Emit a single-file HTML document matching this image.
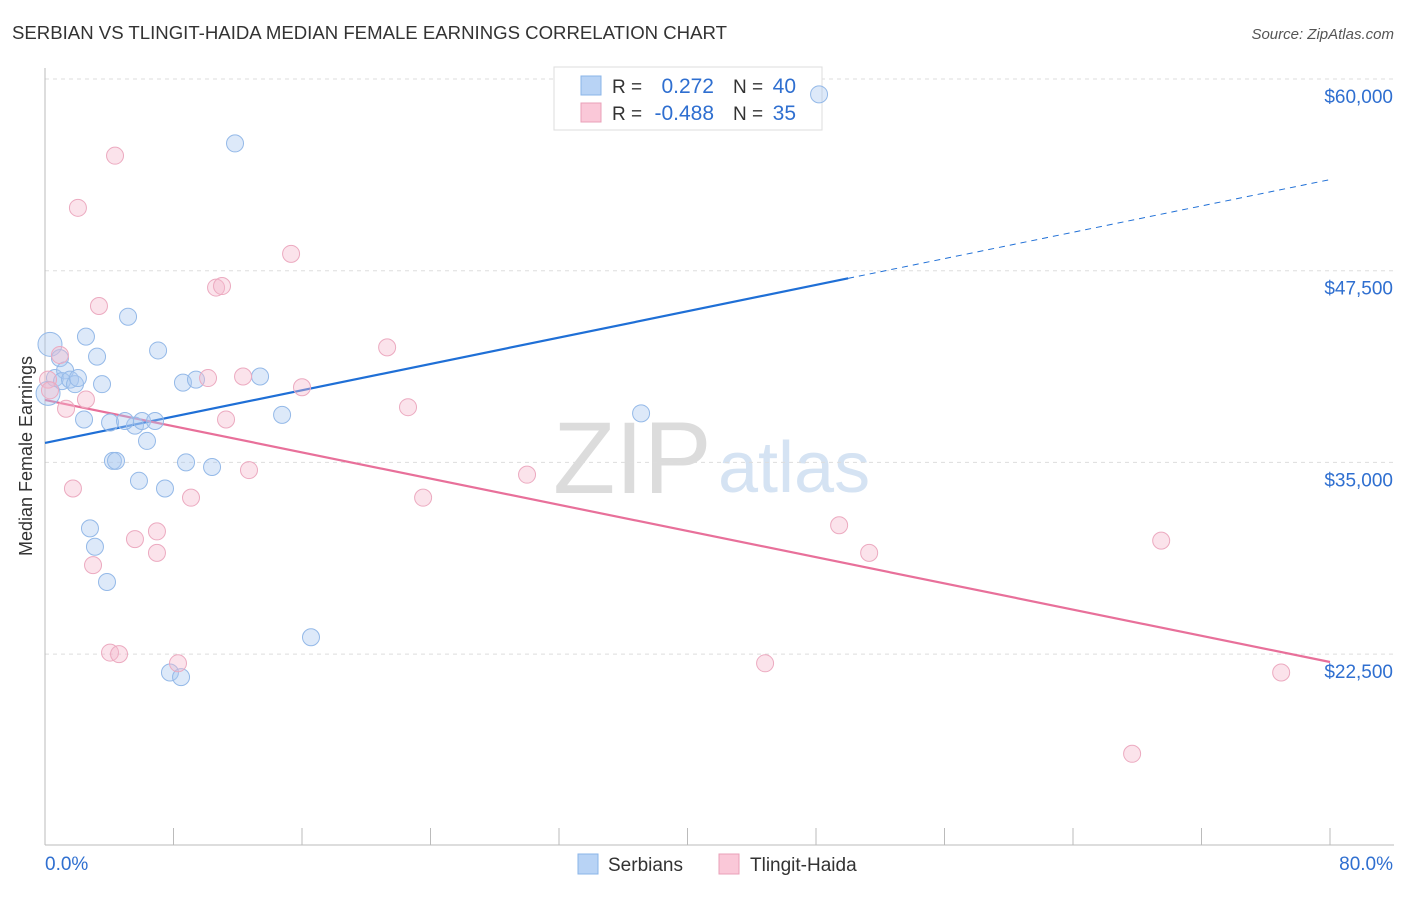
<!DOCTYPE html>
<html><head><meta charset="utf-8"><style>
body{margin:0;background:#fff;font-family:"Liberation Sans",sans-serif;}
svg text{font-family:"Liberation Sans",sans-serif;}
</style></head><body>
<svg id="c" width="1406" height="892" xmlns="http://www.w3.org/2000/svg">
<text x="12" y="39" font-size="18.6" fill="#333">SERBIAN VS TLINGIT-HAIDA MEDIAN FEMALE EARNINGS CORRELATION CHART</text>
<text x="1394" y="39" font-size="15" fill="#555" font-style="italic" text-anchor="end">Source: ZipAtlas.com</text>
<text x="32" y="456" font-size="18" fill="#333" text-anchor="middle" transform="rotate(-90 32 456)">Median Female Earnings</text>
<g>
<text x="553" y="493" font-size="102" fill="#dcdcdc" font-family="Liberation Serif,serif">ZIP</text>
<text x="718" y="492" font-size="72" fill="#d5e3f3">atlas</text>
</g>
<g id="grid"></g><g id="axes"></g><g id="lines"></g>
<g>
<rect x="554" y="67" width="268" height="63" fill="#fff" stroke="#ddd"/>
<rect x="581" y="76" width="20" height="19" fill="#b8d3f5" stroke="#8ab4e8"/>
<rect x="581" y="103" width="20" height="19" fill="#fac8d8" stroke="#eaa0b8"/>
<text x="612" y="93" font-size="19" fill="#333">R = </text><text x="714" y="93" font-size="21" fill="#2f6fd0" text-anchor="end">0.272</text>
<text x="733" y="93" font-size="19" fill="#333">N = </text><text x="796" y="93" font-size="21" fill="#2f6fd0" text-anchor="end">40</text>
<text x="612" y="120" font-size="19" fill="#333">R = </text><text x="714" y="120" font-size="21" fill="#2f6fd0" text-anchor="end">-0.488</text>
<text x="733" y="120" font-size="19" fill="#333">N = </text><text x="796" y="120" font-size="21" fill="#2f6fd0" text-anchor="end">35</text>
</g>
<g id="pts"></g>
<g>
<rect x="578" y="854" width="20" height="20" fill="#b8d3f5" stroke="#8ab4e8"/>
<text x="608" y="871" font-size="19" fill="#333">Serbians</text>
<rect x="719" y="854" width="20" height="20" fill="#fac8d8" stroke="#eaa0b8"/>
<text x="750" y="871" font-size="19" fill="#333">Tlingit-Haida</text>
</g>
<text x="45" y="870" font-size="19" fill="#2f6fd0">0.0%</text>
<text x="1393" y="870" font-size="19" fill="#2f6fd0" text-anchor="end">80.0%</text>
</svg>
<script>
const yTicks=[60000,47500,35000,22500];
const yTickLabels=["$60,000","$47,500","$35,000","$22,500"];
const xTicks=[0,8,16,24,32,40,48,56,64,72,80];
const serbX=[0.31,0.19,0.93,0.62,1.25,1.06,1.56,1.87,2.05,2.55,3.24,3.55,2.43,4.05,4.23,4.42,5.17,5.60,6.04,6.35,6.85,7.04,5.85,7.47,2.80,3.11,3.86,8.59,9.40,8.78,10.40,11.83,13.39,14.76,16.56,7.78,8.47,37.11,48.19,4.98];
const serbY=[42700,39500,41800,40500,41000,40300,40400,40100,40500,43200,41900,40100,37800,37600,35100,35100,44500,37400,37700,36400,37700,42300,33800,33300,30700,29500,27200,40200,40400,35000,34700,55800,40600,38100,23600,21300,21000,38200,59000,37700];
const tlinX=[0.19,0.31,0.93,1.31,1.74,2.05,2.55,2.99,3.36,4.05,4.61,4.36,5.60,6.97,6.97,8.28,9.09,10.15,10.65,11.02,11.27,12.33,12.70,15.32,16.00,21.30,22.60,23.54,30.01,44.83,49.44,51.31,69.49,76.96,67.68];
const tlinY=[40400,39700,42000,38500,33300,51600,39100,28300,45200,22600,22500,55000,30000,30500,29100,21900,32700,40500,46400,46500,37800,40600,34500,48600,39900,42500,38600,32700,34200,21900,30900,29100,29900,21300,16000];
const serbTrend=[36270,53440];
const tlinTrend=[39070,21985];
const NS="http://www.w3.org/2000/svg";
const X=v=>45+v/80*1285;
const Y=v=>79+(60000-v)/12500*191.7;
function mk(t,a,p){const e=document.createElementNS(NS,t);for(const k in a)e.setAttribute(k,a[k]);document.getElementById(p).appendChild(e);return e;}
yTicks.forEach((v,i)=>{
 const l=mk('line',{x1:45,x2:1394,y1:Y(v),y2:Y(v),stroke:'#ddd','stroke-dasharray':'4,4'},'grid');
 
 
 const t=mk('text',{x:1393,y:Y(v)+24,'font-size':19,fill:'#2f6fd0','text-anchor':'end'},'grid');
 t.textContent=yTickLabels[i];
 
 
});
const ya=mk('line',{x1:45,x2:45,y1:68,y2:845,stroke:'#bbb'},'axes');


const xa=mk('line',{x1:45,x2:1394,y1:845,y2:845,stroke:'#bbb'},'axes');


xTicks.forEach(v=>{
 const t=mk('line',{x1:X(v),x2:X(v),y1:828,y2:845,stroke:'#bbb'},'axes');
 
 
});
function pts(xs,ys,fill,stroke,name){
 xs.forEach((x,i)=>{
  const big=(x<0.5&&name==='serbian-point')?12:8.5;
  const c=mk('circle',{cx:X(x),cy:Y(ys[i]),r:big,fill:fill,stroke:stroke,'stroke-width':1},'pts');
  
  
 });
}
pts(serbX,serbY,'rgba(170,200,240,0.4)','#94b9e8','serbian-point');
pts(tlinX,tlinY,'rgba(246,185,205,0.4)','#ecaac0','tlingit-haida-point');
const sAt=x=>serbTrend[0]+(serbTrend[1]-serbTrend[0])*x/80;
const b1=mk('line',{x1:X(0),y1:Y(sAt(0)),x2:X(50),y2:Y(sAt(50)),stroke:'#1f6fd6','stroke-width':2.2},'lines');


const b2=mk('line',{x1:X(50),y1:Y(sAt(50)),x2:X(80),y2:Y(sAt(80)),stroke:'#1f6fd6','stroke-width':1,'stroke-dasharray':'6,5'},'lines');


const p1=mk('line',{x1:X(0),y1:Y(tlinTrend[0]),x2:X(80),y2:Y(tlinTrend[1]),stroke:'#e8709a','stroke-width':2.2},'lines');


</script>
</body></html>
